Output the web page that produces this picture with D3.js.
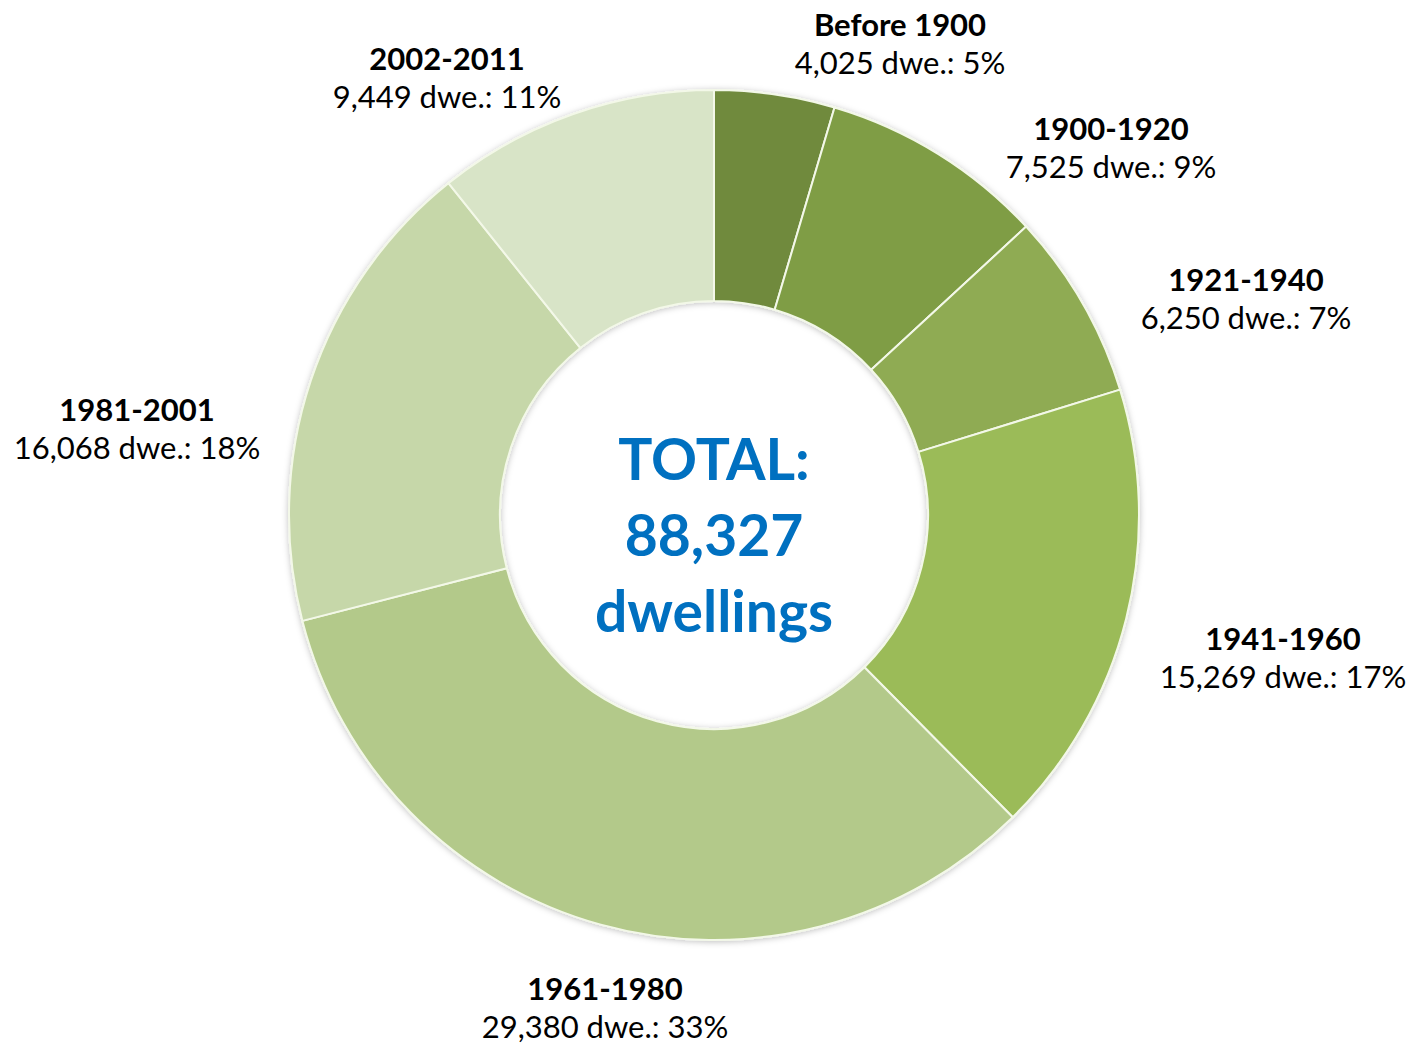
<!DOCTYPE html>
<html><head><meta charset="utf-8">
<script src="https://cdn.jsdelivr.net/npm/d3@7"></script>
<style>html,body{margin:0;padding:0;background:#fff;}svg{display:block;}</style>
</head><body>
<svg id="chart" width="1414" height="1046"></svg>
<script>
// ---- data ----
const categories = ["Before 1900","1900-1920","1921-1940","1941-1960","1961-1980","1981-2001","2002-2011"];
const dwellings  = [4025, 7525, 6250, 15269, 29380, 16068, 9449];
const percents   = ["5%","9%","7%","17%","33%","18%","11%"];
const totalLines = ["TOTAL:", "88,327", "dwellings"];

// ---- layout / style ----
const W = 1414, H = 1046;
const cx = 714, cy = 515, rOuter = 425, rInner = 214;
const colors = ["#6f8a3e","#7f9d45","#8fab52","#9bbb59","#b3c98a","#c6d7a9","#d8e4c7"];
// label block centres as offsets from chart centre
const labelOffsets = [[186,-472],[397,-368],[532,-217],[569,142],[-109,492],[-577,-87],[-267,-438]];
const fontFam = "Lato, 'Open Sans', sans-serif";

const svg = d3.select("#chart");
const defs = svg.append("defs");
const f = defs.append("filter").attr("id","sh").attr("x","-20%").attr("y","-20%").attr("width","140%").attr("height","140%");
f.append("feDropShadow").attr("dx",0).attr("dy",1).attr("stdDeviation",3).attr("flood-color","#000").attr("flood-opacity",0.25);

const g = svg.append("g").attr("transform",`translate(${cx},${cy})`);
const pie = d3.pie().sort(null).value(d => d)(dwellings);
const arc = d3.arc().innerRadius(rInner).outerRadius(rOuter);

g.append("g").attr("filter","url(#sh)")
  .selectAll("path").data(pie).join("path")
  .attr("d", arc)
  .attr("fill", (d,i) => colors[i])
  .attr("stroke", "#f3f8e8")
  .attr("stroke-width", 2)
  .attr("stroke-linejoin","round");

const fmt = d3.format(",");
const labels = g.append("g").selectAll("g").data(pie).join("g")
  .attr("transform", (d,i) => `translate(${labelOffsets[i][0]},${labelOffsets[i][1]})`);
labels.append("text")
  .attr("y", -19).attr("text-anchor","middle").attr("dominant-baseline","central")
  .attr("font-family", fontFam).attr("font-weight","bold").attr("font-size",31).attr("fill","#000")
  .text((d,i) => categories[i]);
labels.append("text")
  .attr("y", 19).attr("text-anchor","middle").attr("dominant-baseline","central")
  .attr("font-family", fontFam).attr("font-size",31).attr("fill","#000")
  .text((d,i) => `${fmt(d.data)} dwe.: ${percents[i]}`);

g.append("g").selectAll("text").data(totalLines).join("text")
  .attr("y", (d,i) => (i-1)*76 + 19)
  .attr("text-anchor","middle").attr("dominant-baseline","central")
  .attr("font-family", fontFam).attr("font-weight","bold").attr("font-size",57).attr("fill","#0070c0")
  .text(d => d);
</script>
</body></html>
